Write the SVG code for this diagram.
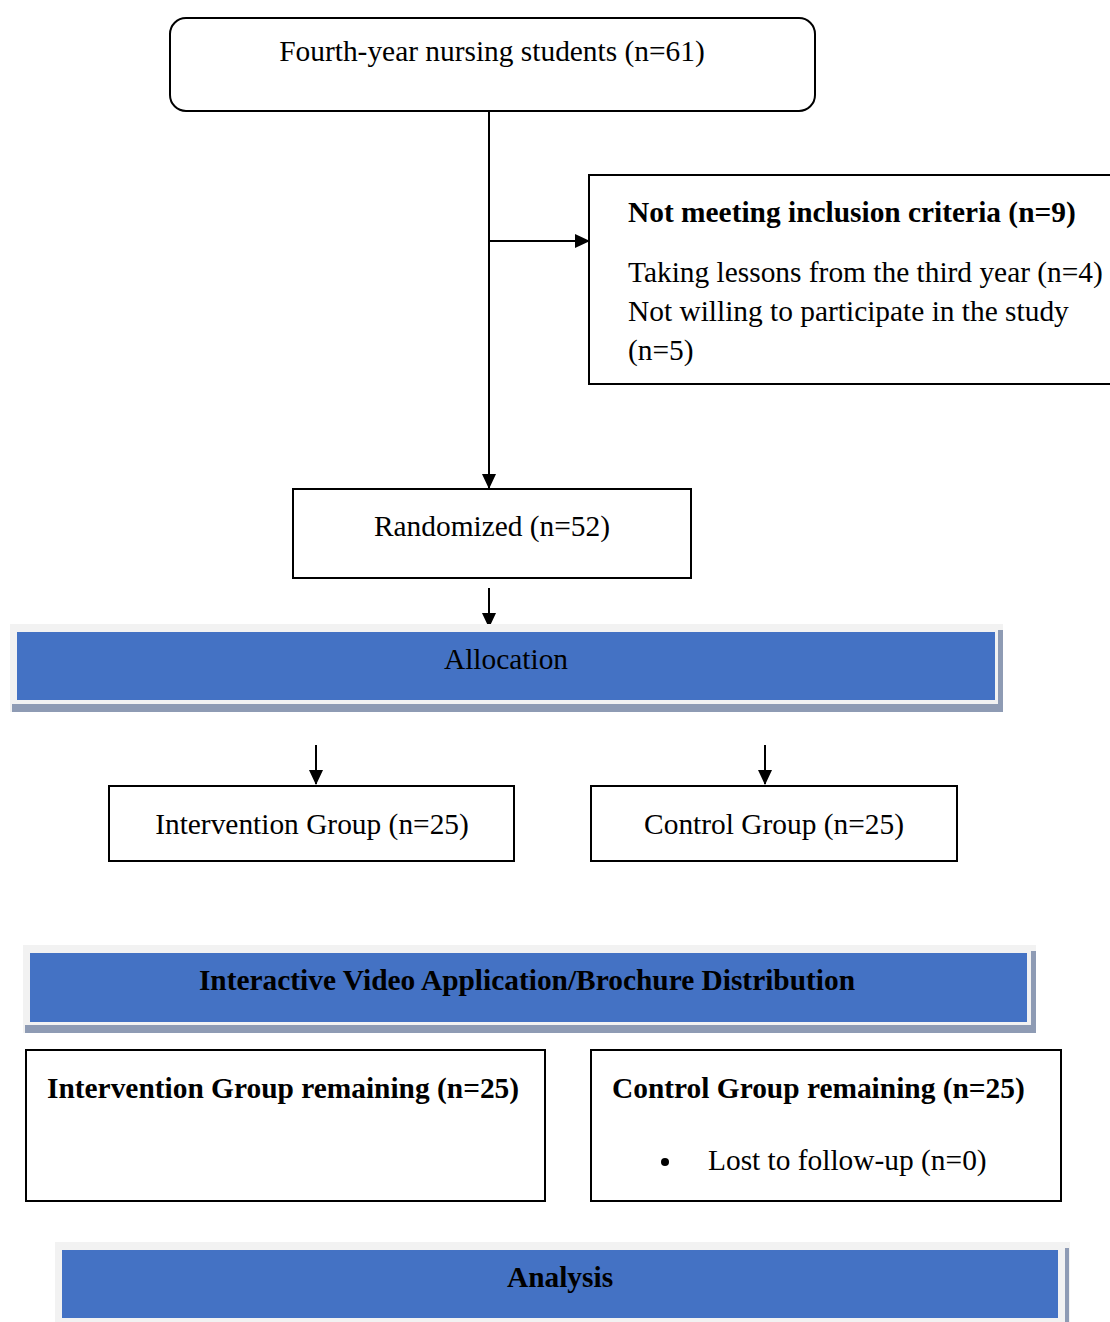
<svg xmlns="http://www.w3.org/2000/svg" width="1110" height="1322" viewBox="0 0 1110 1322">
<style>
text{font-family:"Liberation Serif","Times New Roman",serif;font-size:29.4px;fill:#000}
.b{font-weight:bold}
.m{text-anchor:middle}
.box{fill:#fff;stroke:#000;stroke-width:2}
.line{stroke:#000;stroke-width:2;fill:none}
.outer{fill:#f2f2f2}
.shadow{fill:#8e9bb4}
.blue{fill:#4472c4}
</style>
<defs>
<marker id="ah" markerWidth="15" markerHeight="14" refX="14" refY="7" orient="auto" markerUnits="userSpaceOnUse">
<path d="M0,0 L15,7 L0,14 Z" fill="#000"/>
</marker>
</defs>
<rect width="1110" height="1322" fill="#fff"/>
<g id="connectors">
<line class="line" x1="489" y1="111" x2="489" y2="488" marker-end="url(#ah)"/>
<line class="line" x1="489" y1="241" x2="589" y2="241" marker-end="url(#ah)"/>
<line class="line" x1="489" y1="588" x2="489" y2="627" marker-end="url(#ah)"/>
<line class="line" x1="316" y1="745" x2="316" y2="784" marker-end="url(#ah)"/>
<line class="line" x1="765" y1="745" x2="765" y2="784" marker-end="url(#ah)"/>
</g>
<g id="start">
<rect class="box" x="170" y="18" width="645" height="93" rx="16"/>
<text class="m" x="492" y="61">Fourth-year nursing students (n=61)</text>
</g>
<g id="excluded">
<rect class="box" x="589" y="175" width="530" height="209"/>
<text class="b" x="628" y="222">Not meeting inclusion criteria (n=9)</text>
<text x="628" y="282">Taking lessons from the third year (n=4)</text>
<text x="628" y="321">Not willing to participate in the study</text>
<text x="628" y="360">(n=5)</text>
</g>
<g id="randomized">
<rect class="box" x="293" y="489" width="398" height="89"/>
<text class="m" x="492" y="536">Randomized (n=52)</text>
</g>
<g id="allocation">
<rect class="outer" x="10" y="624" width="993" height="88"/>
<rect class="shadow" x="12" y="704" width="991" height="8"/>
<rect class="shadow" x="998" y="630" width="5" height="82"/>
<rect class="blue" x="17" y="632" width="978" height="68"/>
<text class="m" x="506" y="669">Allocation</text>
</g>
<g id="intervention">
<rect class="box" x="109" y="786" width="405" height="75"/>
<text class="m" x="312" y="834">Intervention Group (n=25)</text>
</g>
<g id="control">
<rect class="box" x="591" y="786" width="366" height="75"/>
<text class="m" x="774" y="834">Control Group (n=25)</text>
</g>
<g id="intervention-banner">
<rect class="outer" x="23" y="945" width="1013" height="88"/>
<rect class="shadow" x="25" y="1025" width="1011" height="8"/>
<rect class="shadow" x="1031" y="951" width="5" height="82"/>
<rect class="blue" x="30" y="953" width="997" height="69"/>
<text class="b m" x="527" y="990">Interactive Video Application/Brochure Distribution</text>
</g>
<g id="intervention-remaining">
<rect class="box" x="26" y="1050" width="519" height="151"/>
<text class="b" x="47" y="1098">Intervention Group remaining (n=25)</text>
</g>
<g id="control-remaining">
<rect class="box" x="591" y="1050" width="470" height="151"/>
<text class="b" x="612" y="1098">Control Group remaining (n=25)</text>
<circle cx="665" cy="1162" r="4" fill="#000"/>
<text x="708" y="1170">Lost to follow-up (n=0)</text>
</g>
<g id="analysis">
<rect class="outer" x="55" y="1242" width="1015" height="80"/>
<rect class="shadow" x="1065" y="1248" width="4" height="74"/>
<rect class="blue" x="62" y="1250" width="996" height="68"/>
<text class="b m" x="560" y="1287">Analysis</text>
</g>
</svg>
